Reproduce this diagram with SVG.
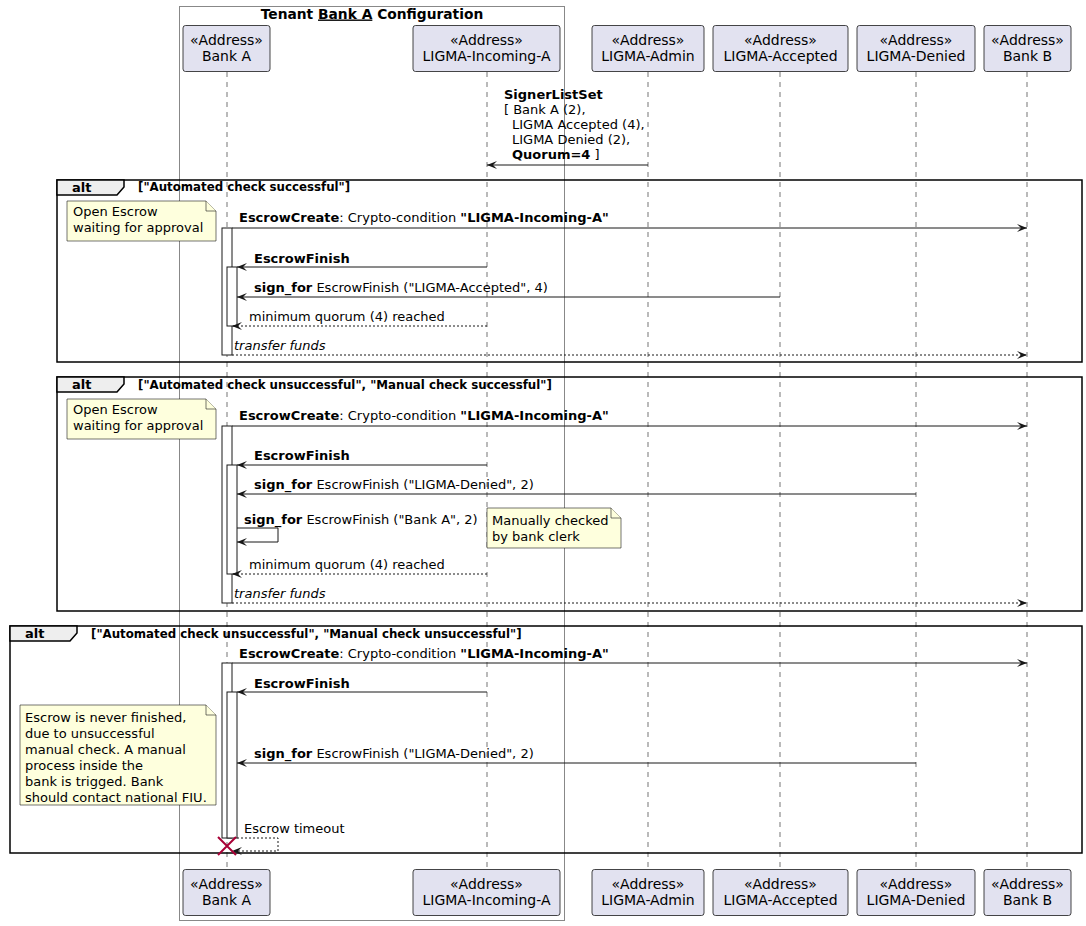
<svg xmlns="http://www.w3.org/2000/svg" width="1086" height="926" viewBox="0 0 1086 926">
<style>
text{font-family:"DejaVu Sans","Liberation Sans",sans-serif;fill:#000}
.p{fill:#E2E2F0;stroke:#181818;stroke-width:0.8}
.pt{font-size:14px;text-anchor:middle}
.life{stroke:#181818;stroke-width:0.6;stroke-dasharray:5,5}
.msg{font-size:13px}
.b{font-weight:bold}
.ln{stroke:#181818;stroke-width:1;fill:none}
.dash{stroke-dasharray:2,2}
.act{fill:#fff;stroke:#181818;stroke-width:1}
.note{fill:#FEFFDD;stroke:#181818;stroke-width:0.6}
.frame{fill:none;stroke:#000;stroke-width:1.5}
.tab{fill:#EEEEEE;stroke:#000;stroke-width:1.5}
.fl{font-size:11.8px;font-weight:bold}
.alt{font-size:13px;font-weight:bold}
</style>
<defs>
<marker id="ah" viewBox="0 0 10 8" refX="10" refY="4" markerWidth="10" markerHeight="8" markerUnits="userSpaceOnUse" orient="auto">
<path d="M0,0 L10,4 L0,8 L4,4 Z" fill="#181818" stroke="none"/>
</marker>
</defs>
<rect x="0" y="0" width="1086" height="926" fill="#fff"/>

<g id="box-tenant">
<rect x="179.5" y="6.5" width="385" height="914" fill="none" stroke="#888" stroke-width="1"/>
<text x="372" y="18.5" font-size="13.8" font-weight="bold" text-anchor="middle">Tenant <tspan text-decoration="underline">Bank A</tspan> Configuration</text>
</g>

<g id="lifelines">
<line class="life" x1="227" y1="72" x2="227" y2="869"/>
<line class="life" x1="487" y1="72" x2="487" y2="869"/>
<line class="life" x1="648" y1="72" x2="648" y2="869"/>
<line class="life" x1="780" y1="72" x2="780" y2="869"/>
<line class="life" x1="916" y1="72" x2="916" y2="869"/>
<line class="life" x1="1027" y1="72" x2="1027" y2="869"/>
</g>

<g id="p-bankA">
<rect class="p" x="183" y="25.5" width="87" height="46" rx="2.5"/>
<text class="pt" x="226.5" y="45">«Address»</text><text class="pt" x="226.5" y="61">Bank A</text>
<rect class="p" x="183" y="869.5" width="87" height="46" rx="2.5"/>
<text class="pt" x="226.5" y="889">«Address»</text><text class="pt" x="226.5" y="905">Bank A</text>
</g>
<g id="p-incoming">
<rect class="p" x="413" y="25.5" width="147" height="46" rx="2.5"/>
<text class="pt" x="486.5" y="45">«Address»</text><text class="pt" x="486.5" y="61">LIGMA-Incoming-A</text>
<rect class="p" x="413" y="869.5" width="147" height="46" rx="2.5"/>
<text class="pt" x="486.5" y="889">«Address»</text><text class="pt" x="486.5" y="905">LIGMA-Incoming-A</text>
</g>
<g id="p-admin">
<rect class="p" x="592" y="25.5" width="112" height="46" rx="2.5"/>
<text class="pt" x="648" y="45">«Address»</text><text class="pt" x="648" y="61">LIGMA-Admin</text>
<rect class="p" x="592" y="869.5" width="112" height="46" rx="2.5"/>
<text class="pt" x="648" y="889">«Address»</text><text class="pt" x="648" y="905">LIGMA-Admin</text>
</g>
<g id="p-accepted">
<rect class="p" x="713" y="25.5" width="135" height="46" rx="2.5"/>
<text class="pt" x="780.5" y="45">«Address»</text><text class="pt" x="780.5" y="61">LIGMA-Accepted</text>
<rect class="p" x="713" y="869.5" width="135" height="46" rx="2.5"/>
<text class="pt" x="780.5" y="889">«Address»</text><text class="pt" x="780.5" y="905">LIGMA-Accepted</text>
</g>
<g id="p-denied">
<rect class="p" x="857" y="25.5" width="118" height="46" rx="2.5"/>
<text class="pt" x="916" y="45">«Address»</text><text class="pt" x="916" y="61">LIGMA-Denied</text>
<rect class="p" x="857" y="869.5" width="118" height="46" rx="2.5"/>
<text class="pt" x="916" y="889">«Address»</text><text class="pt" x="916" y="905">LIGMA-Denied</text>
</g>
<g id="p-bankB">
<rect class="p" x="984" y="25.5" width="87" height="46" rx="2.5"/>
<text class="pt" x="1027.5" y="45">«Address»</text><text class="pt" x="1027.5" y="61">Bank B</text>
<rect class="p" x="984" y="869.5" width="87" height="46" rx="2.5"/>
<text class="pt" x="1027.5" y="889">«Address»</text><text class="pt" x="1027.5" y="905">Bank B</text>
</g>

<g id="alt1">
<rect class="frame" x="57" y="180" width="1025" height="182"/>
<path class="tab" d="M57,180 L124,180 L124,187 L117,195 L57,195 Z"/>
<text class="alt" x="72" y="192">alt</text>
<text class="fl" x="138" y="191">["Automated check successful"]</text>
</g>
<g id="alt2">
<rect class="frame" x="57" y="377" width="1025" height="234"/>
<path class="tab" d="M57,377 L124,377 L124,384 L117,392 L57,392 Z"/>
<text class="alt" x="72" y="389">alt</text>
<text class="fl" x="138" y="389">["Automated check unsuccessful", "Manual check successful"]</text>
</g>
<g id="alt3">
<rect class="frame" x="10" y="626" width="1072" height="227"/>
<path class="tab" d="M10,626 L77,626 L77,633 L70,641 L10,641 Z"/>
<text class="alt" x="25" y="638">alt</text>
<text class="fl" x="91" y="638">["Automated check unsuccessful", "Manual check unsuccessful"]</text>
</g>

<g id="activations">
<rect class="act" x="222" y="228" width="10" height="127"/>
<rect class="act" x="227" y="267" width="10" height="59"/>
<rect class="act" x="222" y="426" width="10" height="177"/>
<rect class="act" x="227" y="465" width="10" height="109"/>
<rect class="act" x="222" y="663" width="10" height="175"/>
<rect class="act" x="227" y="692" width="10" height="146"/>
</g>

<g id="note1">
<path class="note" d="M67,201 L206,201 L216,211 L216,241 L67,241 Z"/>
<path class="note" d="M206,201 L206,211 L216,211"/>
<text class="msg" x="73" y="216">Open Escrow</text>
<text class="msg" x="73" y="232">waiting for approval</text>
</g>
<g id="note2">
<path class="note" d="M67,399 L206,399 L216,409 L216,439 L67,439 Z"/>
<path class="note" d="M206,399 L206,409 L216,409"/>
<text class="msg" x="73" y="414">Open Escrow</text>
<text class="msg" x="73" y="430">waiting for approval</text>
</g>
<g id="note3">
<path class="note" d="M487,508 L611,508 L621,518 L621,548 L487,548 Z"/>
<path class="note" d="M611,508 L611,518 L621,518"/>
<text class="msg" x="492" y="525">Manually checked</text>
<text class="msg" x="492" y="541">by bank clerk</text>
</g>
<g id="note4">
<path class="note" d="M20,705 L206,705 L216,715 L216,805 L20,805 Z"/>
<path class="note" d="M206,705 L206,715 L216,715"/>
<text class="msg" x="25" y="722">Escrow is never finished,</text>
<text class="msg" x="25" y="738">due to unsuccessful</text>
<text class="msg" x="25" y="754">manual check. A manual</text>
<text class="msg" x="25" y="770">process inside the</text>
<text class="msg" x="25" y="786">bank is trigged. Bank</text>
<text class="msg" x="25" y="802">should contact national FIU.</text>
</g>

<g id="connectors">
<line class="ln" x1="648" y1="165" x2="487" y2="165" marker-end="url(#ah)"/>
<text class="msg" x="504" y="99"><tspan class="b">SignerListSet</tspan></text>
<text class="msg" x="504" y="114">[ Bank A (2),</text>
<text class="msg" x="512" y="129">LIGMA Accepted (4),</text>
<text class="msg" x="512" y="144">LIGMA Denied (2),</text>
<text class="msg" x="512" y="159"><tspan class="b">Quorum=4</tspan> ]</text>

<line class="ln" x1="232" y1="228" x2="1027" y2="228" marker-end="url(#ah)"/>
<text class="msg" x="239" y="222"><tspan class="b">EscrowCreate</tspan>: Crypto-condition <tspan class="b">"LIGMA-Incoming-A"</tspan></text>
<line class="ln" x1="487" y1="267" x2="237" y2="267" marker-end="url(#ah)"/>
<text class="msg b" x="254" y="263">EscrowFinish</text>
<line class="ln" x1="780" y1="297" x2="237" y2="297" marker-end="url(#ah)"/>
<text class="msg" x="254" y="292"><tspan class="b">sign_for</tspan> EscrowFinish ("LIGMA-Accepted", 4)</text>
<line class="ln dash" x1="487" y1="326" x2="232" y2="326" marker-end="url(#ah)"/>
<text class="msg" x="249" y="321">minimum quorum (4) reached</text>
<line class="ln dash" x1="232" y1="355" x2="1027" y2="355" marker-end="url(#ah)"/>
<text class="msg" x="234" y="350" font-style="italic">transfer funds</text>

<line class="ln" x1="232" y1="426" x2="1027" y2="426" marker-end="url(#ah)"/>
<text class="msg" x="239" y="420"><tspan class="b">EscrowCreate</tspan>: Crypto-condition <tspan class="b">"LIGMA-Incoming-A"</tspan></text>
<line class="ln" x1="487" y1="465" x2="237" y2="465" marker-end="url(#ah)"/>
<text class="msg b" x="254" y="460">EscrowFinish</text>
<line class="ln" x1="916" y1="494" x2="237" y2="494" marker-end="url(#ah)"/>
<text class="msg" x="254" y="489"><tspan class="b">sign_for</tspan> EscrowFinish ("LIGMA-Denied", 2)</text>
<polyline class="ln" points="237,528 278,528 278,542 237,542" marker-end="url(#ah)"/>
<text class="msg" x="244" y="524"><tspan class="b">sign_for</tspan> EscrowFinish ("Bank A", 2)</text>
<line class="ln dash" x1="487" y1="574" x2="232" y2="574" marker-end="url(#ah)"/>
<text class="msg" x="249" y="569">minimum quorum (4) reached</text>
<line class="ln dash" x1="232" y1="603" x2="1027" y2="603" marker-end="url(#ah)"/>
<text class="msg" x="234" y="598" font-style="italic">transfer funds</text>

<line class="ln" x1="232" y1="663" x2="1027" y2="663" marker-end="url(#ah)"/>
<text class="msg" x="239" y="658"><tspan class="b">EscrowCreate</tspan>: Crypto-condition <tspan class="b">"LIGMA-Incoming-A"</tspan></text>
<line class="ln" x1="487" y1="692" x2="237" y2="692" marker-end="url(#ah)"/>
<text class="msg b" x="254" y="688">EscrowFinish</text>
<line class="ln" x1="916" y1="763" x2="237" y2="763" marker-end="url(#ah)"/>
<text class="msg" x="254" y="758"><tspan class="b">sign_for</tspan> EscrowFinish ("LIGMA-Denied", 2)</text>
<polyline class="ln dash" points="237,838 278,838 278,851 232,851" marker-end="url(#ah)"/>
<text class="msg" x="244" y="833">Escrow timeout</text>
</g>

<g id="destroy">
<path d="M218,837 L236,855 M236,837 L218,855" stroke="#A80036" stroke-width="2" fill="none"/>
</g>
</svg>
